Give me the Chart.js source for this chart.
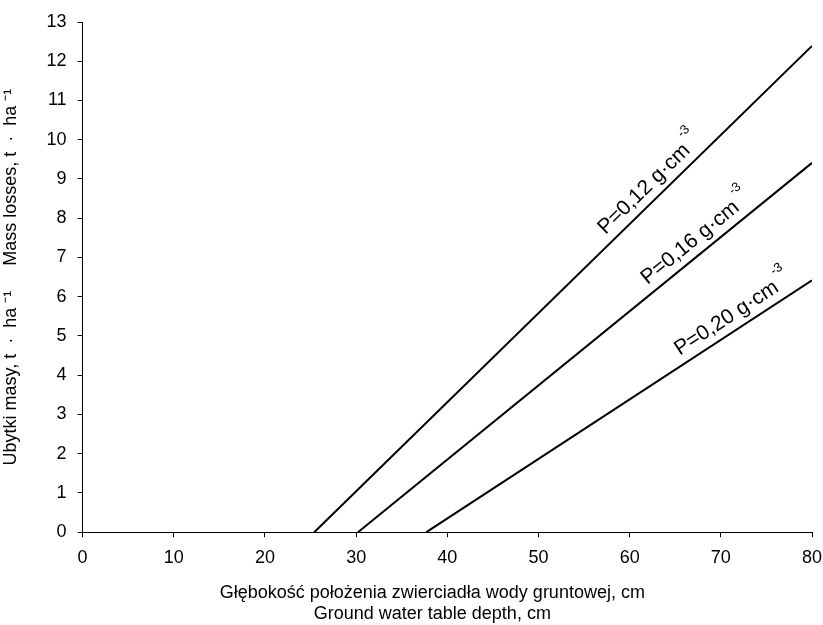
<!DOCTYPE html>
<html>
<head>
    <script src="https://cdn.jsdelivr.net/npm/chart.js"></script>
    <style>
        html, body { margin: 0; padding: 0; background: #fff; }
        #wrap { width: 823px; height: 625px; }
    </style>
</head>
<body>
    <div id="wrap">
        <canvas id="lossChart" width="823" height="625"></canvas>
    </div>
    <script>
        // values
        const seriesNames = ['P=0,12 g·cm', 'P=0,16 g·cm', 'P=0,20 g·cm'];
        const depthX = [[25.4, 80], [30.2, 80], [37.7, 80]];
        const lossY = [[0, 12.39], [0, 9.41], [0, 6.42]];
        const labelAtX = [63.3, 68.3, 72.2];
        const xTicks = [0, 10, 20, 30, 40, 50, 60, 70, 80];
        const yTicks = [0, 1, 2, 3, 4, 5, 6, 7, 8, 9, 10, 11, 12, 13];

        const FONT = '"Liberation Sans", Arial, sans-serif';

        // writes "P=0,.. g·cm" with a raised -3 along each line
        const lineLabels = {
            id: 'lineLabels',
            afterDatasetsDraw(chart) {
                const ctx = chart.ctx;
                const xs = chart.scales.x, ys = chart.scales.y;
                seriesNames.forEach((name, i) => {
                    const x0 = xs.getPixelForValue(depthX[i][0]), y0 = ys.getPixelForValue(lossY[i][0]);
                    const x1 = xs.getPixelForValue(depthX[i][1]), y1 = ys.getPixelForValue(lossY[i][1]);
                    const ang = Math.atan2(y1 - y0, x1 - x0);
                    const t = (labelAtX[i] - depthX[i][0]) / (depthX[i][1] - depthX[i][0]);
                    const px = x0 + (x1 - x0) * t, py = y0 + (y1 - y0) * t;
                    ctx.save();
                    ctx.translate(px, py);
                    ctx.rotate(ang);
                    ctx.fillStyle = '#000';
                    ctx.textBaseline = 'alphabetic';
                    ctx.textAlign = 'left';
                    ctx.font = '21px ' + FONT;
                    const w = ctx.measureText(name).width;
                    ctx.font = '13px ' + FONT;
                    const ws = ctx.measureText('-3').width;
                    const start = -(w + ws + 3) / 2;
                    ctx.font = '21px ' + FONT;
                    ctx.fillText(name, start, -9);
                    ctx.font = '13px ' + FONT;
                    ctx.fillText('-3', start + w + 3, -25);
                    ctx.restore();
                });
            }
        };

        const datasets = seriesNames.map((name, i) => ({
            label: name,
            data: depthX[i].map((x, j) => ({ x: x, y: lossY[i][j] })),
            borderColor: '#000',
            borderWidth: 2,
            pointRadius: 0,
            fill: false,
            tension: 0
        }));

        new Chart(document.getElementById('lossChart'), {
            type: 'line',
            data: { datasets: datasets },
            plugins: [lineLabels],
            options: {
                responsive: false,
                animation: false,
                layout: { padding: { top: 22, right: 11, left: 0, bottom: 0 } },
                plugins: { legend: { display: false }, tooltip: { enabled: false } },
                scales: {
                    x: {
                        type: 'linear',
                        min: 0, max: 80,
                        afterBuildTicks: s => { s.ticks = xTicks.map(v => ({ value: v })); },
                        afterFit: s => { s.paddingRight = 0; },
                        grid: { display: true, drawOnChartArea: false, drawTicks: true, tickLength: 5, tickColor: '#000', tickWidth: 1 },
                        border: { color: '#000', width: 1 },
                        ticks: { color: '#000', font: { family: FONT, size: 18 }, padding: 10, maxRotation: 0 },
                        title: {
                            display: true,
                            // trailing spaces nudge the centred lines a little to the left
                            text: ['Głębokość położenia zwierciadła wody gruntowej, cm      ', 'Ground water table depth, cm      '],
                            color: '#000',
                            font: { family: FONT, size: 18, lineHeight: 1.2 },
                            padding: { top: 3, bottom: 0 }
                        }
                    },
                    y: {
                        type: 'linear',
                        min: 0, max: 13,
                        afterBuildTicks: s => { s.ticks = yTicks.map(v => ({ value: v })); },
                        grid: { display: true, drawOnChartArea: false, drawTicks: true, tickLength: 5, tickColor: '#000', tickWidth: 1 },
                        border: { color: '#000', width: 1 },
                        ticks: { color: '#000', font: { family: FONT, size: 18 }, padding: 11 },
                        title: {
                            display: true,
                            text: 'Ubytki masy, t  ·  ha ⁻¹     Mass losses, t  ·  ha ⁻¹',
                            color: '#000',
                            font: { family: FONT, size: 18 },
                            padding: { top: 0, bottom: 14 }
                        }
                    }
                }
            }
        });
    </script>
</body>
</html>
